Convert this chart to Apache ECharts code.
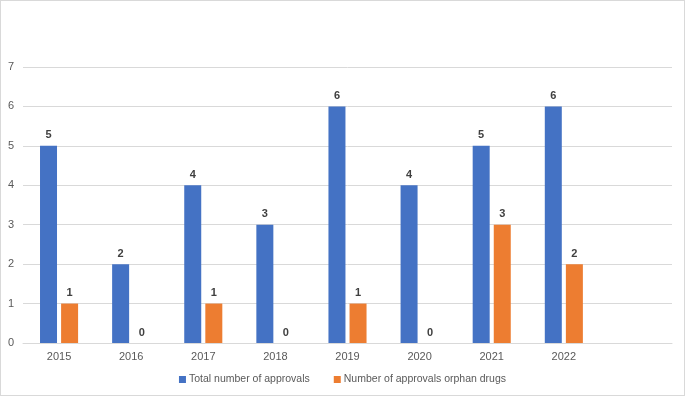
<!DOCTYPE html>
<html>
<head>
<meta charset="utf-8">
<script src="https://cdn.jsdelivr.net/npm/echarts@6/dist/echarts.min.js"></script>
<style>
  html, body { margin: 0; padding: 0; background: #fff; }
  #chart { width: 685px; height: 396px; box-sizing: border-box; border: 1px solid #d9d9d9; }
</style>
</head>
<body>
<div id="chart"></div>
<script>
// years on the x axis, with one empty slot at the end as in the original
var years = ["2015", "2016", "2017", "2018", "2019", "2020", "2021", "2022", ""];
var totalApprovals = [5, 2, 4, 3, 6, 4, 5, 6];
var orphanApprovals = [1, 0, 1, 0, 1, 0, 3, 2];
var seriesNames = ["Total number of approvals", "Number of approvals orphan drugs"];

var myChart = echarts.init(document.getElementById("chart"));

var labelStyle = {
  show: true,
  position: "top",
  distance: 5,
  fontSize: 11,
  fontWeight: "bold",
  color: "#404040",
  fontFamily: "Liberation Sans, Arial, sans-serif"
};

var option = {
  animation: false,
  textStyle: { fontFamily: "Liberation Sans, Arial, sans-serif" },
  grid: { left: 22, right: 12, top: 66, bottom: 52 },
  legend: {
    bottom: 5,
    left: "center",
    itemWidth: 7,
    itemHeight: 7,
    itemGap: 24,
    icon: "rect",
    textStyle: { fontSize: 10.5, color: "#595959", padding: [0, 0, 0, -2] },
    data: seriesNames
  },
  xAxis: {
    type: "category",
    data: years,
    axisTick: { show: false },
    axisLine: { lineStyle: { color: "#d9d9d9" } },
    axisLabel: { color: "#595959", fontSize: 11, margin: 8 }
  },
  yAxis: {
    type: "value",
    min: 0,
    max: 7,
    interval: 1,
    axisLine: { show: false },
    axisTick: { show: false },
    axisLabel: { color: "#595959", fontSize: 11, margin: 9 },
    splitLine: { lineStyle: { color: "#d9d9d9" } }
  },
  series: [
    {
      name: seriesNames[0],
      type: "bar",
      data: totalApprovals,
      barWidth: 17,
      barGap: "24%",
      itemStyle: { color: "#4472c4" },
      label: labelStyle
    },
    {
      name: seriesNames[1],
      type: "bar",
      data: orphanApprovals,
      barWidth: 17,
      itemStyle: { color: "#ed7d31" },
      label: labelStyle
    }
  ]
};

option && myChart.setOption(option);
</script>
</body>
</html>
